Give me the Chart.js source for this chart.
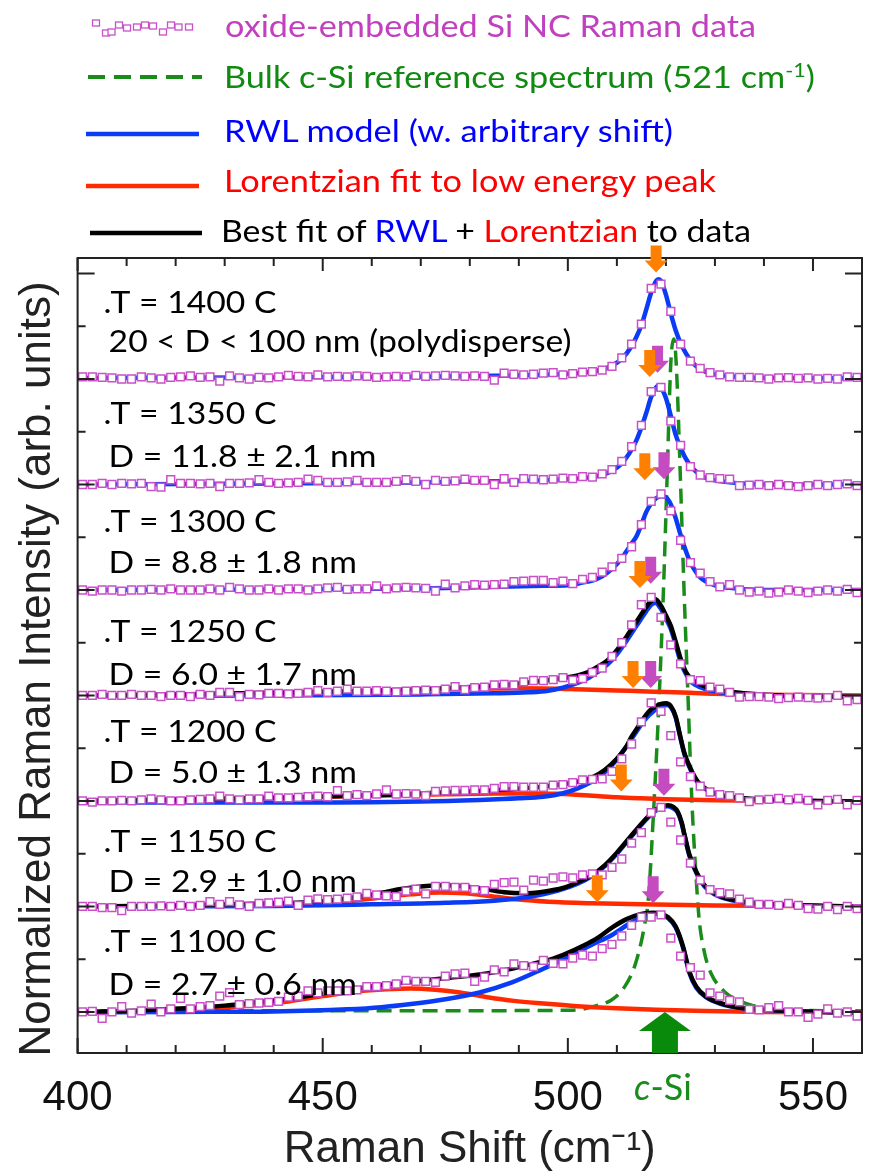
<!DOCTYPE html>
<html>
<head>
<meta charset="utf-8">
<script src="https://cdn.jsdelivr.net/npm/chart.js@4.4.1/dist/chart.umd.min.js"></script>
<style>
  html, body { margin: 0; padding: 0; background: #fff; }
  #wrap { position: relative; width: 869px; height: 1176px; overflow: hidden; }
  #chart { position: absolute; left: 0; top: 0; }
  #legend { position: absolute; left: 0; top: 0; }
</style>
</head>
<body>
<div id="wrap">
<canvas id="chart" width="869" height="1176"></canvas>
<svg id="legend" width="869" height="252" font-family="Lato, sans-serif" font-size="30">
  <g fill="#fff" stroke="#c850c8" stroke-width="1.3">
    <rect x="92.5" y="20" width="7" height="6"/><rect x="102.5" y="30" width="7" height="6"/>
    <rect x="108" y="29" width="7" height="6"/><rect x="115.5" y="22" width="7" height="6"/>
    <rect x="123.5" y="25" width="7" height="6"/><rect x="133.5" y="24" width="7" height="6"/>
    <rect x="141.5" y="22" width="7" height="6"/><rect x="149.5" y="23" width="7" height="6"/>
    <rect x="159.5" y="29" width="7" height="6"/><rect x="167.5" y="22" width="7" height="6"/>
    <rect x="175" y="24" width="7" height="6"/><rect x="185.5" y="24" width="7" height="6"/>
  </g>
  <line x1="88" y1="77" x2="202" y2="77" stroke="#1a8c1a" stroke-width="4" stroke-dasharray="17 9"/>
  <line x1="86" y1="134" x2="199" y2="134" stroke="#0a3cf5" stroke-width="4.5"/>
  <line x1="86" y1="186" x2="199" y2="186" stroke="#ff2a00" stroke-width="4.5"/>
  <line x1="90" y1="233" x2="202" y2="233" stroke="#000" stroke-width="4.5"/>
  <text x="225" y="37" fill="#c040c0" textLength="531" lengthAdjust="spacingAndGlyphs">oxide-embedded Si NC Raman data</text>
  <text x="224" y="88" fill="#108a10" textLength="591" lengthAdjust="spacingAndGlyphs">Bulk c-Si reference spectrum (521 cm<tspan dy="-11" font-size="19">-1</tspan><tspan dy="11">)</tspan></text>
  <text x="224" y="142" fill="#0000ff" textLength="449" lengthAdjust="spacingAndGlyphs">RWL model (w. arbitrary shift)</text>
  <text x="224" y="192" fill="#ff0000" textLength="492" lengthAdjust="spacingAndGlyphs">Lorentzian fit to low energy peak</text>
  <text x="221" y="242" fill="#000" textLength="530" lengthAdjust="spacingAndGlyphs">Best fit of <tspan fill="#0000ff">RWL</tspan> + <tspan fill="#ff0000">Lorentzian</tspan> to data</text>
</svg>
</div>
<script>
// panels, bottom to top (1 unit of y = one panel offset)
const panelTemps = ['T = 1100 C', 'T = 1150 C', 'T = 1200 C', 'T = 1250 C', 'T = 1300 C', 'T = 1350 C', 'T = 1400 C'];
const panelSizes = ['D = 2.7 ± 0.6 nm', 'D = 2.9 ± 1.0 nm', 'D = 5.0 ± 1.3 nm', 'D = 6.0 ± 1.7 nm',
  'D = 8.8 ± 1.8 nm', 'D = 11.8 ± 2.1 nm', '20 < D < 100 nm (polydisperse)'];
const panelOffsets = [0, 1, 2, 3, 4, 5, 6];

const xTickLabels = [400, 450, 500, 550];
const xMinorTicks = [410, 420, 430, 440, 460, 470, 480, 490, 510, 520, 530, 540];
const yMajorTicks = [0, 1, 2, 3, 4, 5, 6, 7];
const yMinorTicks = [0.5, 1.5, 2.5, 3.5, 4.5, 5.5, 6.5];

// measured Raman spectra (normalized, without offset)
const ramanX = [401,403,405,407,409,411,413,415,417,419,
  421,423,425,427,429,431,433,435,437,439,
  441,443,445,447,449,451,453,455,457,459,
  461,463,465,467,469,471,473,475,477,479,
  481,483,485,487,489,491,493,495,497,499,
  501,503,505,507,509,511,513,515,517,519,
  521,523,525,527,529,531,533,535,537,539,
  541,543,545,547,549,551,553,555,557,559];

const raman1100 = [0.0,0.005,-0.06,0.0,0.05,-0.01,0.01,0.075,0.0,0.03,
  0.13,0.03,0.05,0.06,0.15,0.183,0.07,0.08,0.085,0.09,
  0.1,0.14,0.15,0.2,0.18,0.2,0.2,0.2,0.21,0.24,
  0.24,0.25,0.265,0.3,0.29,0.29,0.28,0.34,0.36,0.367,
  0.29,0.33,0.4,0.38,0.455,0.44,0.43,0.49,0.46,0.455,
  0.51,0.54,0.53,0.6,0.64,0.72,0.82,0.9,0.9,0.92,
  0.7,0.53,0.42,0.35,0.18,0.15,0.11,0.095,0.025,0.02,
  0.04,0.06,0.0,0.0,-0.05,-0.02,0.03,-0.01,0.0,-0.04];
const raman1150 = [0.0,0.0,-0.01,-0.01,-0.04,0.0,0.0,0.0,0.005,0.0,
  0.01,0.0,0.01,0.045,0.02,0.045,0.015,0.0,0.03,0.035,
  0.04,0.05,0.01,0.06,0.072,0.065,0.07,0.08,0.09,0.123,
  0.11,0.1,0.092,0.145,0.165,0.12,0.19,0.19,0.18,0.18,
  0.16,0.15,0.21,0.225,0.23,0.155,0.25,0.24,0.27,0.28,
  0.27,0.3,0.31,0.3,0.37,0.45,0.6,0.7,0.89,0.94,
  0.8,0.63,0.41,0.25,0.16,0.13,0.12,0.07,0.04,0.02,
  0.02,0.01,0.03,0.01,-0.02,-0.025,0.0,-0.03,0.0,-0.02];
const raman1200 = [0.0,-0.01,0.0,0.0,0.005,0.0,0.01,0.02,0.01,0.0,
  0.0,0.01,0.015,0.02,0.047,0.02,0.01,0.02,0.02,0.047,
  0.03,0.03,0.035,0.04,0.045,0.04,0.098,0.05,0.06,0.05,
  0.066,0.104,0.066,0.07,0.066,0.05,0.09,0.095,0.1,0.1,
  0.105,0.105,0.12,0.136,0.136,0.13,0.13,0.13,0.15,0.155,
  0.174,0.2,0.205,0.21,0.28,0.4,0.54,0.75,0.93,0.85,
  0.62,0.37,0.23,0.14,0.085,0.06,0.05,0.03,-0.006,0.01,
  0.015,0.025,0.01,0.025,0.005,-0.038,0.005,0.015,-0.038,0.005];
const raman1250 = [0.0,0.0,0.01,0.0,0.0,0.01,0.0,0.0,-0.01,0.0,
  0.0,-0.01,0.01,0.0,0.03,0.03,-0.01,0.01,0.005,0.02,
  0.02,0.015,0.02,0.03,0.045,0.03,0.04,0.06,0.04,0.04,
  0.045,0.04,0.035,0.04,0.045,0.05,0.045,0.06,0.085,0.055,
  0.075,0.08,0.1,0.105,0.1,0.13,0.142,0.14,0.15,0.17,
  0.145,0.16,0.22,0.26,0.37,0.5,0.67,0.86,0.93,0.74,
  0.48,0.3,0.15,0.14,0.08,0.06,0.03,-0.015,-0.01,-0.01,
  -0.015,-0.03,-0.02,-0.015,-0.02,-0.025,-0.02,0.0,-0.05,-0.04];
const raman1300 = [0.0,-0.01,0.0,0.0,-0.01,0.0,0.0,0.005,0.0,0.01,
  0.0,0.0,0.0,0.01,0.0,0.025,0.01,0.0,0.0,0.01,
  0.0,0.01,0.01,0.0,0.01,0.02,0.025,0.005,0.01,0.01,
  0.04,0.01,0.02,0.025,0.02,0.015,-0.01,0.055,0.02,0.04,
  0.05,0.045,0.05,0.055,0.08,0.085,0.09,0.09,0.07,0.085,
  0.06,0.1,0.12,0.17,0.22,0.3,0.41,0.62,0.84,0.91,
  0.75,0.47,0.26,0.16,0.08,0.03,0.05,0.0,-0.02,-0.01,
  -0.03,-0.02,0.0,-0.01,-0.025,-0.01,0.0,-0.01,0.005,-0.025];
const raman1350 = [0.0,0.0,0.01,0.0,0.01,0.005,0.01,-0.02,-0.025,0.045,
  0.01,0.01,0.005,0.01,-0.02,0.01,0.01,0.015,0.045,0.02,
  0.01,0.015,0.02,0.05,0.04,0.02,0.02,0.025,0.04,0.02,
  0.02,0.02,0.03,0.045,0.03,0.0,0.04,0.03,0.035,0.05,
  0.04,0.04,0.0,0.055,0.02,0.055,0.05,0.045,0.05,0.06,
  0.055,0.075,0.07,0.1,0.14,0.22,0.36,0.56,0.88,0.92,
  0.6,0.37,0.17,0.09,0.065,0.055,0.05,-0.01,-0.005,0.0,
  -0.01,0.0,-0.01,-0.02,-0.01,0.0,-0.01,0.0,0.005,-0.01];
const raman1400 = [0.02,0.02,0.015,0.01,0.0,0.0,0.02,0.01,0.0,0.015,
  0.02,0.03,0.015,0.02,-0.02,0.03,0.01,0.0,0.015,0.01,
  0.02,0.035,0.025,0.02,0.04,0.02,0.025,0.02,0.03,0.025,
  0.015,0.02,0.025,0.02,0.035,0.025,0.03,0.035,0.03,0.025,
  0.03,0.025,-0.01,0.055,0.045,0.04,0.045,0.055,0.06,0.04,
  0.05,0.065,0.07,0.085,0.12,0.2,0.33,0.52,0.86,0.9,
  0.64,0.33,0.17,0.1,0.06,0.04,0.02,0.015,0.015,0.01,
  0.0,0.01,0.012,0.005,0.01,0.0,0.005,0.0,0.02,0.015];

// RWL model curves [shift, intensity]
const rwl1100 = [[400,-0.005],[420,0.0],[440,0.005],[455,0.025],[462,0.045],[468,0.075],[475,0.12],[482,0.185],[488.6,0.28],[495,0.41],[498,0.475],[502,0.57],[505,0.64],[509,0.73],[513,0.85],[515.7,0.91],[517.5,0.93],[519,0.92],[520.4,0.89],[522,0.8],[523.5,0.61],[524.8,0.37],[526.2,0.23],[528.2,0.14],[531,0.08],[536,0.033],[543,0.013],[560,-0.01]];
const rwl1150 = [[400,0.0],[440,0.005],[460,0.02],[475,0.035],[485,0.055],[492,0.09],[498,0.15],[502,0.215],[505,0.29],[507.5,0.38],[510,0.5],[513,0.665],[515.7,0.81],[517.7,0.9],[519,0.935],[520.4,0.95],[521.5,0.93],[522.4,0.89],[523.2,0.79],[523.8,0.67],[524.8,0.48],[526.2,0.32],[527.9,0.19],[530.6,0.1],[536,0.04],[542.8,0.015],[560,0.0]];
const rwl1200 = [[400,-0.015],[440,-0.015],[470,-0.005],[482,0.01],[490,0.025],[495,0.04],[499,0.073],[502,0.12],[505.5,0.2],[509,0.34],[512.3,0.54],[515.7,0.77],[517.7,0.86],[519,0.9],[520,0.91],[521,0.89],[522,0.79],[522.8,0.63],[523.8,0.44],[525,0.3],[526.5,0.175],[528.5,0.1],[532,0.045],[536,0.022],[543,0.008],[560,-0.006]];
const rwl1250 = [[400,-0.005],[440,0.0],[470,0.01],[485,0.02],[492,0.03],[496,0.045],[499,0.075],[502,0.12],[504,0.16],[506,0.22],[508,0.29],[510,0.39],[512,0.52],[514,0.66],[515,0.73],[516,0.8],[517,0.86],[517.8,0.88],[519,0.82],[520,0.73],[521,0.63],[522,0.48],[523,0.32],[524,0.21],[525,0.14],[526,0.1],[528,0.06],[531,0.03],[536,0.01],[543,-0.005],[560,-0.015]];
const rwl1300 = [[400,0.0],[440,0.005],[470,0.015],[485,0.03],[495,0.04],[500,0.045],[503,0.07],[505,0.09],[507,0.13],[509,0.2],[511,0.3],[512,0.37],[513,0.44],[514,0.51],[515,0.62],[516,0.74],[517,0.82],[518,0.87],[519,0.89],[520,0.88],[521,0.81],[522,0.68],[523,0.52],[524,0.38],[525,0.26],[526,0.18],[527,0.12],[528,0.085],[530,0.045],[533,0.02],[537,0.005],[545,0.0],[560,0.0]];
const rwl1350 = [[400,0.0],[440,0.01],[470,0.02],[485,0.03],[495,0.04],[500,0.05],[504,0.065],[507,0.09],[509,0.13],[511,0.2],[513,0.33],[514,0.42],[515,0.54],[516,0.68],[517,0.83],[518,0.92],[518.5,0.935],[519,0.92],[520,0.82],[521,0.65],[522,0.47],[523,0.35],[524,0.25],[525,0.18],[526,0.13],[527,0.09],[528,0.065],[530,0.04],[533,0.02],[537,0.005],[545,0.0],[560,0.0]];
const rwl1400 = [[400,0.01],[440,0.015],[470,0.022],[485,0.03],[495,0.04],[500,0.05],[504,0.065],[507,0.09],[509,0.125],[511,0.19],[513,0.31],[514,0.4],[515,0.51],[516,0.66],[517,0.82],[518,0.93],[518.5,0.945],[519,0.93],[520,0.8],[521,0.62],[522,0.46],[523,0.34],[524,0.25],[525,0.18],[526,0.13],[527,0.095],[528,0.07],[530,0.045],[533,0.025],[537,0.015],[545,0.01],[560,0.005]];

// Lorentzian fits to the low-energy peak
const lor1100 = [[400,0.0],[415,0.01],[425,0.025],[435,0.06],[443,0.1],[450,0.15],[457,0.195],[463,0.215],[468,0.222],[473,0.21],[478,0.185],[483,0.145],[489,0.105],[495,0.08],[502,0.055],[510,0.035],[518,0.02],[528,0.008],[540,0.0],[560,-0.005]];
const lor1150 = [[400,0.0],[430,0.01],[445,0.025],[455,0.05],[462,0.085],[468,0.115],[474,0.133],[479,0.125],[484,0.1],[490,0.065],[496,0.045],[505,0.03],[515,0.02],[530,0.01],[545,0.005],[560,0.0]];
const lor1200 = [[400,0.0],[420,0.015],[440,0.03],[460,0.05],[475,0.063],[485,0.07],[492,0.072],[498,0.068],[505,0.05],[510,0.035],[515,0.025],[520,0.017],[530,0.008],[545,0.0],[560,-0.005]];
const lor1250 = [[400,0.0],[420,0.01],[440,0.025],[460,0.045],[475,0.06],[485,0.066],[490,0.068],[495,0.066],[500,0.062],[505,0.055],[510,0.048],[515,0.04],[520,0.033],[525,0.025],[530,0.016],[540,0.008],[560,0.0]];

// best fit RWL + Lorentzian
const fit1100 = [[400,0.0],[410,0.01],[417,0.025],[424,0.04],[430,0.06],[437,0.095],[444,0.13],[451,0.18],[457,0.22],[462,0.255],[468,0.285],[475,0.32],[482,0.355],[489,0.415],[494,0.47],[497,0.505],[500,0.56],[503,0.625],[506,0.7],[509,0.8],[512,0.88],[515,0.93],[517.5,0.94],[519,0.93],[520.4,0.9],[522,0.81],[523.5,0.62],[524.8,0.38],[526.2,0.24],[528.2,0.145],[531,0.085],[536,0.035],[543,0.015],[560,-0.01]];
const fit1150 = [[400,0.0],[420,0.01],[440,0.03],[450,0.05],[457,0.09],[462,0.13],[466,0.165],[470,0.19],[475,0.2],[479,0.19],[483,0.165],[487,0.135],[491,0.125],[495,0.14],[499,0.175],[502,0.23],[505,0.3],[507.5,0.39],[510,0.51],[513,0.675],[515.7,0.82],[517.7,0.91],[519,0.945],[520.4,0.96],[521.5,0.945],[522.4,0.9],[523.2,0.8],[523.8,0.68],[524.8,0.49],[526.2,0.33],[527.9,0.2],[530.6,0.107],[536,0.045],[542.8,0.02],[560,0.0]];
const fit1200 = [[400,0.0],[420,0.015],[440,0.03],[461,0.057],[468,0.066],[475,0.082],[482,0.095],[489,0.114],[495,0.136],[499,0.16],[502,0.183],[505,0.225],[507.5,0.294],[510,0.4],[512,0.52],[513,0.61],[514,0.68],[515.7,0.8],[517,0.87],[518,0.9],[519,0.92],[520,0.926],[521,0.9],[522,0.8],[522.8,0.64],[523.8,0.45],[525,0.31],[526.5,0.183],[528.5,0.104],[532,0.047],[536,0.025],[543,0.01],[560,-0.006]];
const fit1250 = [[400,0.0],[420,0.01],[440,0.025],[460,0.045],[470,0.06],[480,0.08],[488,0.105],[495,0.14],[499,0.165],[502,0.19],[504,0.22],[506,0.27],[508,0.33],[510,0.43],[512,0.56],[514,0.7],[515,0.77],[516,0.84],[517,0.895],[517.8,0.915],[519,0.85],[520,0.76],[521,0.66],[522,0.51],[523,0.35],[524,0.23],[525,0.165],[526,0.13],[528,0.085],[531,0.05],[536,0.022],[543,0.0],[560,-0.015]];

// bulk c-Si reference, on the 1100 C baseline
const bulkSi = [[400,0.012],[440,0.012],[480,0.012],[498,0.015],[502,0.02],[505.5,0.055],[508.9,0.114],[511.6,0.24],[513.6,0.43],[515,0.67],[515.7,0.84],[516.4,1.06],[517.6,2.0],[518.6,2.95],[519.5,4.0],[520.2,5.0],[521.0,6.15],[521.6,6.38],[522.1,6.15],[523,5.0],[523.7,4.0],[524.5,3.0],[525.3,2.0],[526.2,1.25],[526.8,0.87],[527.9,0.556],[529.2,0.367],[532,0.19],[534.6,0.114],[537.3,0.066],[540,0.04],[545,0.02],[560,0.01]];

// peak markers (arrow tip positions)
const orangeArrowX = [506.0, 510.9, 513.3, 514.7, 515.7, 516.7, 518.0];
const orangeArrowY = [1.04, 2.09, 3.07, 4.02, 5.04, 6.02, 7.01];
const magentaArrowX = [517.4, 519.6, 516.9, 516.9, 519.6, 518.3];
const magentaArrowY = [1.03, 2.05, 3.07, 4.06, 5.05, 6.06];
const cSiArrowX = 519.8;

// label placement above each baseline (in panel units)
const tLift = [0.57, 0.52, 0.56, 0.51, 0.55, 0.57, 0.63];
const dLift = [0.16, 0.14, 0.17, 0.10, 0.16, 0.17, 0.26];

const ramanSets = [raman1100, raman1150, raman1200, raman1250, raman1300, raman1350, raman1400];
const rwlSets = [rwl1100, rwl1150, rwl1200, rwl1250, rwl1300, rwl1350, rwl1400];
const lorSets = [lor1100, lor1150, lor1200, lor1250];
const fitSets = [fit1100, fit1150, fit1200, fit1250];

const BLUE = '#0a3cf5', RED = '#ff2a00', GREEN = '#1a8c1a', MAG = '#c850c8';

function curve(points, off, color, width, order, dash) {
  return {
    data: points.map(p => ({x: p[0], y: p[1] + off})),
    borderColor: color,
    borderWidth: width,
    borderDash: dash || [],
    pointRadius: 0,
    fill: false,
    cubicInterpolationMode: 'monotone',
    order: order
  };
}

const datasets = [];
datasets.push(curve(bulkSi, 0, GREEN, 3.5, 5, [15, 8]));
panelTemps.forEach((t, i) => {
  const off = panelOffsets[i];
  datasets.push({
    label: t,
    data: ramanX.map((x, j) => ({x: x, y: ramanSets[i][j] + off})),
    showLine: false,
    pointStyle: 'rect',
    pointRadius: 5.5,
    pointBorderWidth: 1.5,
    pointBorderColor: MAG,
    pointBackgroundColor: '#fff',
    order: 1
  });
  datasets.push(curve(rwlSets[i], off, BLUE, 4.5, 3));
  if (lorSets[i]) datasets.push(curve(lorSets[i], off, RED, 4.5, 4));
  if (fitSets[i]) datasets.push(curve(fitSets[i], off, '#000', 4.5, 2));
});

function arrow(ctx, cx, tipY, len, headH, headW, shaftW, color) {
  ctx.fillStyle = color;
  ctx.beginPath();
  ctx.moveTo(cx - shaftW, tipY - len);
  ctx.lineTo(cx + shaftW, tipY - len);
  ctx.lineTo(cx + shaftW, tipY - headH);
  ctx.lineTo(cx + headW, tipY - headH);
  ctx.lineTo(cx, tipY);
  ctx.lineTo(cx - headW, tipY - headH);
  ctx.lineTo(cx - shaftW, tipY - headH);
  ctx.closePath();
  ctx.fill();
}

const decor = {
  id: 'decor',
  afterDatasetsDraw(chart) {
    const {ctx, chartArea: a, scales: {x, y}} = chart;
    ctx.save();
    // frame and inward ticks
    ctx.strokeStyle = '#222';
    ctx.lineWidth = 2;
    ctx.strokeRect(a.left, a.top, a.right - a.left, a.bottom - a.top);
    ctx.beginPath();
    xTickLabels.forEach(v => {
      const px = x.getPixelForValue(v);
      ctx.moveTo(px, a.bottom); ctx.lineTo(px, a.bottom - 15);
      ctx.moveTo(px, a.top); ctx.lineTo(px, a.top + 13);
    });
    xMinorTicks.forEach(v => {
      const px = x.getPixelForValue(v);
      ctx.moveTo(px, a.bottom); ctx.lineTo(px, a.bottom - 8);
      ctx.moveTo(px, a.top); ctx.lineTo(px, a.top + 8);
    });
    yMajorTicks.forEach(v => {
      const py = y.getPixelForValue(v);
      ctx.moveTo(a.left, py); ctx.lineTo(a.left + 17, py);
      ctx.moveTo(a.right, py); ctx.lineTo(a.right - 17, py);
    });
    yMinorTicks.forEach(v => {
      const py = y.getPixelForValue(v);
      ctx.moveTo(a.left, py); ctx.lineTo(a.left + 8, py);
      ctx.moveTo(a.right, py); ctx.lineTo(a.right - 8, py);
    });
    ctx.stroke();

    // peak arrows
    magentaArrowX.forEach((v, i) => {
      arrow(ctx, x.getPixelForValue(v), y.getPixelForValue(magentaArrowY[i]), 27, 12, 11.5, 5.5, '#c44cc0');
    });
    orangeArrowX.forEach((v, i) => {
      arrow(ctx, x.getPixelForValue(v), y.getPixelForValue(orangeArrowY[i]), 27, 12, 11.5, 5.5, '#ff8000');
    });
    // bulk c-Si marker
    const cx = x.getPixelForValue(cSiArrowX);
    const ty = y.getPixelForValue(0);
    arrow(ctx, cx, ty, -(a.bottom - ty), -19, 26, 13, '#0a8a0a');
    ctx.font = 'italic 36px Lato';
    const wc = ctx.measureText('c').width;
    ctx.font = '36px Lato';
    const ws = ctx.measureText('-Si').width;
    const x0 = x.getPixelForValue(519.4) - (wc + ws) / 2;
    ctx.fillStyle = GREEN;
    ctx.textBaseline = 'alphabetic';
    ctx.font = 'italic 36px Lato';
    ctx.fillText('c', x0, a.bottom + 47);
    ctx.font = '36px Lato';
    ctx.fillText('-Si', x0 + wc, a.bottom + 47);

    // panel labels
    ctx.font = '30px Lato';
    ctx.fillStyle = '#000';
    const sx = 463 / ctx.measureText(panelSizes[6]).width;
    const put = (txt, px, py) => {
      ctx.save();
      ctx.translate(px, py);
      ctx.scale(sx, 1);
      ctx.fillText(txt, 0, 0);
      ctx.restore();
    };
    panelTemps.forEach((t, i) => {
      const yT = y.getPixelForValue(panelOffsets[i] + tLift[i]);
      const yD = y.getPixelForValue(panelOffsets[i] + dLift[i]);
      put('.', a.left + 26, yT);
      put(t, a.left + 33, yT);
      put(panelSizes[i], a.left + 31, yD);
    });

    // y axis title
    ctx.save();
    ctx.translate(38, 669);
    ctx.rotate(-Math.PI / 2);
    ctx.font = "44px 'Liberation Sans', Arial, sans-serif";
    ctx.fillStyle = '#222';
    ctx.textAlign = 'center';
    ctx.textBaseline = 'middle';
    ctx.fillText('Normalized Raman Intensity (arb. units)', 0, 0);
    ctx.restore();
    ctx.restore();
  }
};

Chart.defaults.font.family = "'Liberation Sans', Arial, sans-serif";

new Chart(document.getElementById('chart'), {
  type: 'line',
  data: { datasets: datasets },
  options: {
    responsive: false,
    animation: false,
    events: [],
    layout: { padding: { top: 258, right: 4, left: 0, bottom: 0 } },
    plugins: { legend: { display: false }, tooltip: { enabled: false } },
    scales: {
      x: {
        type: 'linear',
        min: 400,
        max: 560,
        afterBuildTicks: s => { s.ticks = xTickLabels.map(v => ({value: v})); },
        afterFit: s => { s.height = 123; },
        grid: { display: false, drawTicks: false },
        border: { display: false },
        ticks: { autoSkip: false, maxRotation: 0, padding: 20, color: '#111', font: { size: 42 } },
        title: { display: true, text: 'Raman Shift (cm⁻¹)', color: '#222', font: { size: 44 }, padding: { top: 0, bottom: 0 } }
      },
      y: {
        type: 'linear',
        min: -0.389,
        max: 7.147,
        afterFit: s => { s.width = 77.6; },
        grid: { display: false, drawTicks: false },
        border: { display: false },
        ticks: { display: false },
        title: { display: false }
      }
    }
  },
  plugins: [decor]
});
</script>
</body>
</html>
